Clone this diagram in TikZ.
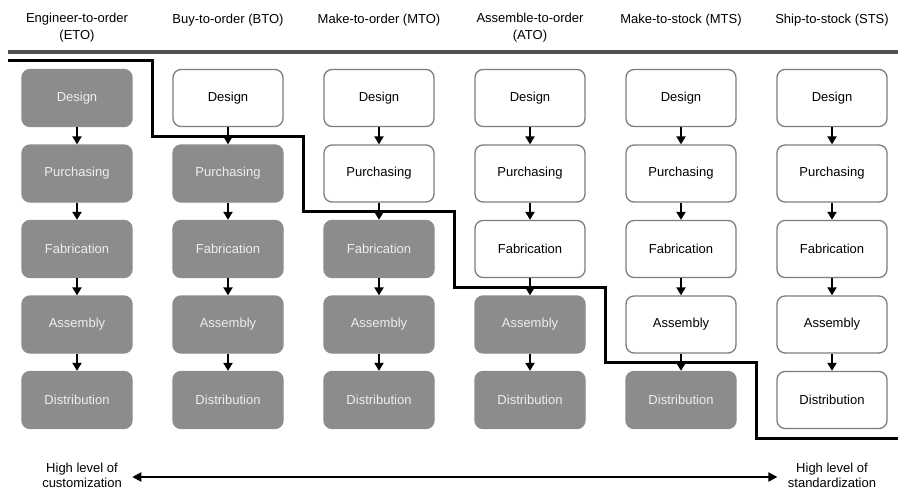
\documentclass[tikz,border=0pt]{standalone}
\usepackage{fontspec}
\setmainfont{Liberation Sans}
\usetikzlibrary{arrows.meta}
\definecolor{boxgray}{RGB}{140,140,140}
\definecolor{boxtext}{RGB}{238,238,238}
\definecolor{edgegray}{RGB}{125,125,125}
\definecolor{topline}{RGB}{80,80,80}
\tikzset{
  procbox/.style={rounded corners=8pt, minimum width=110pt, minimum height=57pt, inner sep=0pt,
    font=\fontsize{13}{15}\selectfont},
  whitebox/.style={procbox, draw=edgegray, line width=1.3pt, fill=white, text=black},
  graybox/.style={procbox, draw=boxgray, line width=1.3pt, fill=boxgray, text=boxtext},
  flowarrow/.style={line width=2.2pt, -{Triangle[width=9pt,length=8pt]}},
  header/.style={align=center, font=\fontsize{13}{17}\selectfont},
  endlabel/.style={align=center, font=\fontsize{13}{15.5}\selectfont},
  stair/.style={line width=3pt, black},
}
\begin{document}
\begin{tikzpicture}[x=1pt,y=-1pt]
\useasboundingbox (0,0) rectangle (898,491);
% headers
\node[header] (h0) at (77,28) {Engineer-to-order\\(ETO)};
\node[header] (h1) at (228,20) {Buy-to-order (BTO)};
\node[header] (h2) at (379,20) {Make-to-order (MTO)};
\node[header] (h3) at (530,28) {Assemble-to-order\\(ATO)};
\node[header] (h4) at (681,20) {Make-to-stock (MTS)};
\node[header] (h5) at (832,20) {Ship-to-stock (STS)};
% top line
\draw[topline, line width=3.5pt] (8,52) -- (898,52);
% boxes
\foreach \i/\cx in {0/77,1/228,2/379,3/530,4/681,5/832}{
  \foreach \j/\cy/\lab in {0/98/Design,1/173.5/Purchasing,2/249/Fabrication,3/324.5/Assembly,4/400/Distribution}{
    \ifnum\j<\i
      \node[whitebox] (b\i\j) at (\cx,\cy) {\lab};
    \else
      \node[graybox] (b\i\j) at (\cx,\cy) {\lab};
    \fi
  }
  \foreach \j/\k in {0/1,1/2,2/3,3/4}{
    \draw[flowarrow] (b\i\j.south) -- (b\i\k.north);
  }
}
% staircase boundary
\draw[stair] (8,60) -- (152.5,60) -- (152.5,136) -- (303.5,136) -- (303.5,211.5)
  -- (454.5,211.5) -- (454.5,287) -- (605.5,287) -- (605.5,362.5)
  -- (756.5,362.5) -- (756.5,438) -- (898,438);
% bottom
\node[endlabel] (lcust) at (82,475.5) {High level of\\customization};
\node[endlabel] (lstand) at (832,475.5) {High level of\\standardization};
\path (lcust.east) ++(7,1.5) coordinate (aL);
\path (lstand.west) ++(-7,1.5) coordinate (aR);
\draw[line width=2pt, {Triangle[width=9pt,length=9pt]}-{Triangle[width=9pt,length=9pt]}] (aL) -- (aR);
\end{tikzpicture}
\end{document}
